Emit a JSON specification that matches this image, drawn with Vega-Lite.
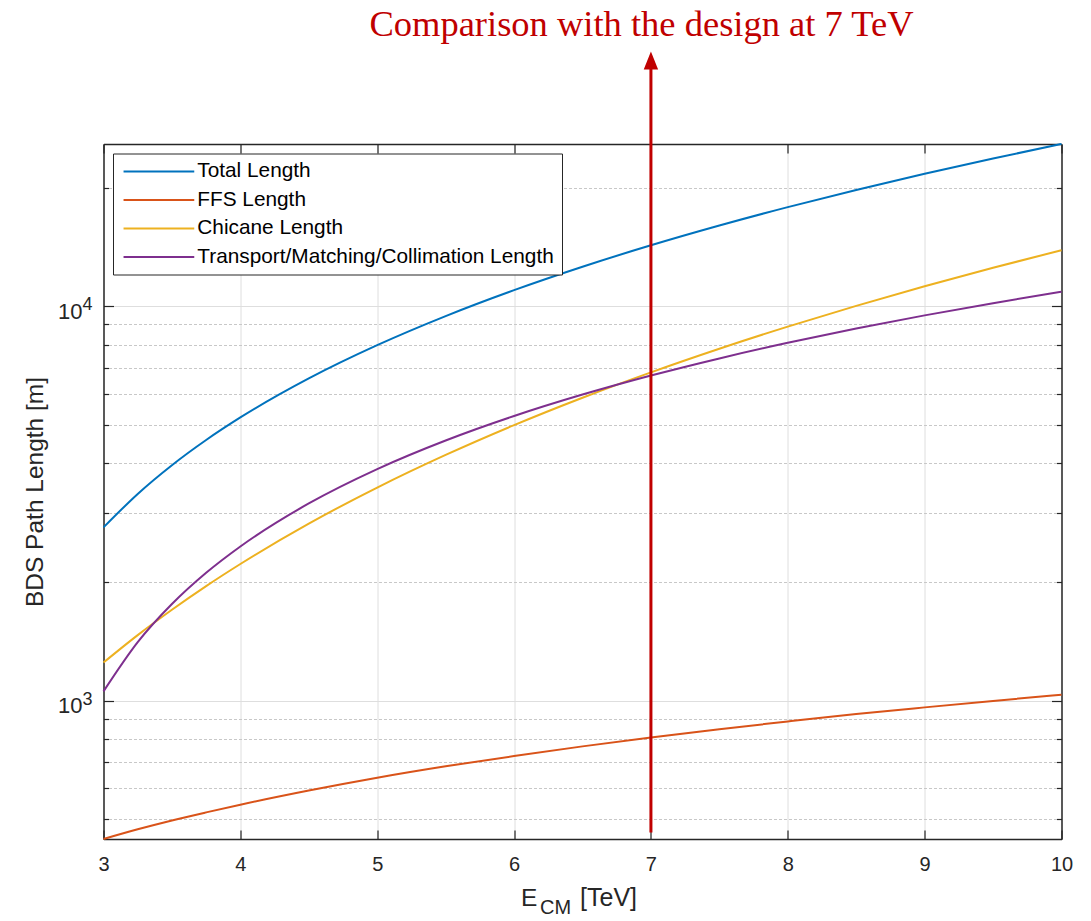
{
  "$schema": "https://vega.github.io/schema/vega-lite/v6.json",
  "width": 958,
  "height": 695,
  "autosize": {"type": "none"},
  "padding": {"left": 103.5, "top": 144, "right": 29.5, "bottom": 82},
  "background": "white",
  "title": {
    "text": "Comparison with the design at 7 TeV",
    "font": "Liberation Serif",
    "fontSize": 36.5,
    "fontWeight": "normal",
    "color": "#C00000",
    "anchor": "middle",
    "frame": "group",
    "offset": 14,
    "dx": 59,
    "dy": 35,
    "baseline": "alphabetic"
  },
  "config": {
    "view": {"stroke": "#262626", "strokeWidth": 1},
    "font": "Liberation Sans"
  },
  "datasets": {
    "curves": [
      {"E": 3, "L": 2752, "series": "Total Length"},
      {"E": 3.25, "L": 3346, "series": "Total Length"},
      {"E": 3.5, "L": 3957, "series": "Total Length"},
      {"E": 3.75, "L": 4585, "series": "Total Length"},
      {"E": 4, "L": 5230, "series": "Total Length"},
      {"E": 4.5, "L": 6570, "series": "Total Length"},
      {"E": 5, "L": 7978, "series": "Total Length"},
      {"E": 5.5, "L": 9454, "series": "Total Length"},
      {"E": 6, "L": 10999, "series": "Total Length"},
      {"E": 6.5, "L": 12611, "series": "Total Length"},
      {"E": 7, "L": 14293, "series": "Total Length"},
      {"E": 7.5, "L": 16043, "series": "Total Length"},
      {"E": 8, "L": 17861, "series": "Total Length"},
      {"E": 8.5, "L": 19749, "series": "Total Length"},
      {"E": 9, "L": 21704, "series": "Total Length"},
      {"E": 9.5, "L": 23729, "series": "Total Length"},
      {"E": 10, "L": 25823, "series": "Total Length"},
      {"E": 3, "L": 446, "series": "FFS Length"},
      {"E": 3.25, "L": 472, "series": "FFS Length"},
      {"E": 3.5, "L": 497, "series": "FFS Length"},
      {"E": 3.75, "L": 521, "series": "FFS Length"},
      {"E": 4, "L": 545, "series": "FFS Length"},
      {"E": 4.5, "L": 592, "series": "FFS Length"},
      {"E": 5, "L": 638, "series": "FFS Length"},
      {"E": 5.5, "L": 682, "series": "FFS Length"},
      {"E": 6, "L": 724, "series": "FFS Length"},
      {"E": 6.5, "L": 766, "series": "FFS Length"},
      {"E": 7, "L": 807, "series": "FFS Length"},
      {"E": 7.5, "L": 847, "series": "FFS Length"},
      {"E": 8, "L": 886, "series": "FFS Length"},
      {"E": 8.5, "L": 925, "series": "FFS Length"},
      {"E": 9, "L": 962, "series": "FFS Length"},
      {"E": 9.5, "L": 999, "series": "FFS Length"},
      {"E": 10, "L": 1036, "series": "FFS Length"},
      {"E": 3, "L": 1250, "series": "Chicane Length"},
      {"E": 3.25, "L": 1467, "series": "Chicane Length"},
      {"E": 3.5, "L": 1701, "series": "Chicane Length"},
      {"E": 3.75, "L": 1953, "series": "Chicane Length"},
      {"E": 4, "L": 2222, "series": "Chicane Length"},
      {"E": 4.5, "L": 2813, "series": "Chicane Length"},
      {"E": 5, "L": 3472, "series": "Chicane Length"},
      {"E": 5.5, "L": 4201, "series": "Chicane Length"},
      {"E": 6, "L": 5000, "series": "Chicane Length"},
      {"E": 6.5, "L": 5868, "series": "Chicane Length"},
      {"E": 7, "L": 6806, "series": "Chicane Length"},
      {"E": 7.5, "L": 7813, "series": "Chicane Length"},
      {"E": 8, "L": 8889, "series": "Chicane Length"},
      {"E": 8.5, "L": 10035, "series": "Chicane Length"},
      {"E": 9, "L": 11250, "series": "Chicane Length"},
      {"E": 9.5, "L": 12535, "series": "Chicane Length"},
      {"E": 10, "L": 13889, "series": "Chicane Length"},
      {"E": 3, "L": 1056, "series": "Transport/Matching/Collimation Length"},
      {"E": 3.25, "L": 1408, "series": "Transport/Matching/Collimation Length"},
      {"E": 3.5, "L": 1759, "series": "Transport/Matching/Collimation Length"},
      {"E": 3.75, "L": 2111, "series": "Transport/Matching/Collimation Length"},
      {"E": 4, "L": 2462, "series": "Transport/Matching/Collimation Length"},
      {"E": 4.5, "L": 3165, "series": "Transport/Matching/Collimation Length"},
      {"E": 5, "L": 3868, "series": "Transport/Matching/Collimation Length"},
      {"E": 5.5, "L": 4571, "series": "Transport/Matching/Collimation Length"},
      {"E": 6, "L": 5274, "series": "Transport/Matching/Collimation Length"},
      {"E": 6.5, "L": 5977, "series": "Transport/Matching/Collimation Length"},
      {"E": 7, "L": 6680, "series": "Transport/Matching/Collimation Length"},
      {"E": 7.5, "L": 7383, "series": "Transport/Matching/Collimation Length"},
      {"E": 8, "L": 8086, "series": "Transport/Matching/Collimation Length"},
      {"E": 8.5, "L": 8789, "series": "Transport/Matching/Collimation Length"},
      {"E": 9, "L": 9492, "series": "Transport/Matching/Collimation Length"},
      {"E": 9.5, "L": 10195, "series": "Transport/Matching/Collimation Length"},
      {"E": 10, "L": 10898, "series": "Transport/Matching/Collimation Length"}
    ],
    "arrow": [
      {"E": 7, "L": 463},
      {"E": 7, "L": 40380}
    ],
    "arrowhead": [
      {"E": 7, "L": 42060}
    ],
    "sup": [
      {"L": 1000, "label": "3"},
      {"L": 10000, "label": "4"}
    ],
    "xE": [{"label": "E"}],
    "xCM": [{"label": "CM"}],
    "xTeV": [{"label": "[TeV]"}]
  },
  "layer": [
    {
      "data": {"name": "curves"},
      "mark": {"type": "line", "strokeWidth": 2, "interpolate": "monotone"},
      "encoding": {
        "x": {
          "field": "E", "type": "quantitative",
          "scale": {"domain": [3, 10], "nice": false, "zero": false},
          "axis": {
            "orient": "bottom",
            "values": [3, 4, 5, 6, 7, 8, 9, 10],
            "title": null,
            "grid": true,
            "gridColor": "#dedede",
            "gridWidth": 1,
            "tickSize": -9,
            "tickColor": "#262626",
            "tickWidth": 1.2,
            "domainColor": "#262626",
            "domainWidth": 1.3,
            "labelFont": "Liberation Sans",
            "labelFontSize": 20,
            "labelColor": "#262626",
            "labelPadding": 24,
            "labelFlush": false,
            "labelOverlap": false
          }
        },
        "y": {
          "field": "L", "type": "quantitative",
          "scale": {"type": "log", "domain": [446, 25823], "nice": false, "zero": false},
          "axis": {
            "orient": "left",
            "values": [500, 600, 700, 800, 900, 1000, 2000, 3000, 4000, 5000, 6000, 7000, 8000, 9000, 10000, 20000],
            "title": "BDS Path Length [m]",
            "titleFont": "Liberation Sans",
            "titleFontSize": 24.5,
            "titleFontWeight": "normal",
            "titleColor": "#262626",
            "titleX": -68,
            "titleY": 347.5,
            "titleAngle": -90,
            "titleAlign": "center",
            "titleBaseline": "middle",
            "grid": true,
            "gridColor": {"condition": {"test": "datum.value == 1000 || datum.value == 10000", "value": "#dedede"}, "value": "#c8c8c8"},
            "gridDash": {"condition": {"test": "datum.value == 1000 || datum.value == 10000", "value": []}, "value": [3, 2]},
            "tickSize": {"condition": {"test": "datum.value == 1000 || datum.value == 10000", "value": -10}, "value": -5},
            "tickColor": "#262626",
            "tickWidth": 1.2,
            "domainColor": "#262626",
            "domainWidth": 1.3,
            "labelExpr": "datum.value == 1000 || datum.value == 10000 ? '10' : ''",
            "labelFont": "Liberation Sans",
            "labelFontSize": 22,
            "labelColor": "#262626",
            "labelPadding": 31.5,
            "labelOffset": 5,
            "labelOverlap": false
          }
        },
        "color": {
          "field": "series", "type": "nominal",
          "scale": {
            "domain": ["Total Length", "FFS Length", "Chicane Length", "Transport/Matching/Collimation Length"],
            "range": ["#0072BD", "#D95319", "#EDB120", "#7E2F8E"]
          },
          "legend": {
            "orient": "none",
            "legendX": 9.5,
            "legendY": 9.5,
            "title": null,
            "direction": "vertical",
            "symbolType": "M-5,0H5",
            "symbolSize": 200,
            "symbolStrokeWidth": 2,
            "symbolOffset": 28,
            "labelOffset": 28,
            "labelFont": "Liberation Sans",
            "labelFontSize": 20.8,
            "labelColor": "#000000",
            "labelLimit": 600,
            "padding": 7.5,
            "rowPadding": 6.5,
            "strokeColor": "#262626",
            "fillColor": "#ffffff",
            "cornerRadius": 0
          }
        }
      }
    },
    {
      "data": {"name": "arrow"},
      "mark": {"type": "line", "color": "#C00000", "strokeWidth": 3},
      "encoding": {
        "x": {
          "field": "E", "type": "quantitative",
          "axis": {
            "orient": "top",
            "values": [3, 4, 5, 6, 7, 8, 9, 10],
            "labels": false,
            "title": null,
            "grid": false,
            "tickSize": -9,
            "tickColor": "#262626",
            "tickWidth": 1.2,
            "domainColor": "#262626",
            "domainWidth": 1.3
          }
        },
        "y": {
          "field": "L", "type": "quantitative",
          "axis": {
            "orient": "right",
            "values": [500, 600, 700, 800, 900, 1000, 2000, 3000, 4000, 5000, 6000, 7000, 8000, 9000, 10000, 20000],
            "labels": false,
            "title": null,
            "grid": false,
            "tickSize": {"condition": {"test": "datum.value == 1000 || datum.value == 10000", "value": -10}, "value": -5},
            "tickColor": "#262626",
            "tickWidth": 1.2,
            "domainColor": "#262626",
            "domainWidth": 1.3
          }
        }
      }
    },
    {
      "data": {"name": "arrowhead"},
      "mark": {"type": "point", "shape": "M0,-1L0.8,1L-0.8,1Z", "size": 324, "filled": true, "color": "#C00000", "opacity": 1},
      "encoding": {
        "x": {"field": "E", "type": "quantitative", "axis": null},
        "y": {"field": "L", "type": "quantitative", "axis": null}
      }
    },
    {
      "data": {"name": "sup"},
      "mark": {"type": "text", "align": "left", "baseline": "alphabetic", "dy": 4, "fontSize": 18, "font": "Liberation Sans", "color": "#262626"},
      "encoding": {
        "x": {"datum": 2.8466, "type": "quantitative", "axis": null},
        "y": {"field": "L", "type": "quantitative", "axis": null},
        "text": {"field": "label"}
      }
    },
    {
      "data": {"name": "xE"},
      "mark": {"type": "text", "align": "left", "baseline": "alphabetic", "fontSize": 24.5, "font": "Liberation Sans", "color": "#262626"},
      "encoding": {
        "x": {"datum": 6.05, "type": "quantitative", "axis": null},
        "y": {"datum": 302, "type": "quantitative", "axis": null},
        "text": {"field": "label"}
      }
    },
    {
      "data": {"name": "xCM"},
      "mark": {"type": "text", "align": "left", "baseline": "alphabetic", "fontSize": 20, "font": "Liberation Sans", "color": "#262626"},
      "encoding": {
        "x": {"datum": 6.19, "type": "quantitative", "axis": null},
        "y": {"datum": 287, "type": "quantitative", "axis": null},
        "text": {"field": "label"}
      }
    },
    {
      "data": {"name": "xTeV"},
      "mark": {"type": "text", "align": "left", "baseline": "alphabetic", "fontSize": 25, "font": "Liberation Sans", "color": "#262626"},
      "encoding": {
        "x": {"datum": 6.482, "type": "quantitative", "axis": null},
        "y": {"datum": 302, "type": "quantitative", "axis": null},
        "text": {"field": "label"}
      }
    }
  ],
  "resolve": {"axis": {"x": "independent", "y": "independent"}}
}
